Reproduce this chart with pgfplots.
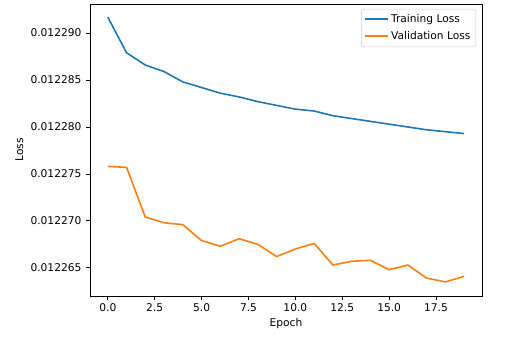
\documentclass[border=0pt]{standalone}
\usepackage{fontspec}
\setmainfont{DejaVu Sans}
\usepackage{pgfplots}
\pgfplotsset{compat=1.18}
\definecolor{mplblue}{HTML}{1F77B4}
\definecolor{mplorange}{HTML}{FF7F0E}

\begin{document}
\begin{tikzpicture}[x=0.75pt,y=0.75pt]
% fixed page: the white margins of the reference image
\useasboundingbox (-90,-43) rectangle (422,296);
\begin{axis}[
  at={(0,0)}, anchor=south west,
  scale only axis, width=294pt, height=219pt,
  font=\fontsize{8}{9.6}\selectfont,
  xmin=-0.95, xmax=19.95,
  ymin=0.0122620, ymax=0.0122931,
  xtick={0,2.5,...,17.5},
  ytick={0.012265,0.012270,0.012275,0.012280,0.012285,0.012290},
  scaled y ticks=false,
  xticklabel style={yshift=1pt, /pgf/number format/.cd, fixed, fixed zerofill, precision=1},
  yticklabel style={/pgf/number format/.cd, fixed, fixed zerofill, precision=6},
  /pgf/number format/assume math mode=true,
  tick align=outside, xtick pos=bottom, ytick pos=left,
  major tick length=2.9pt,
  every tick/.style={black, line width=0.6pt},
  axis line style={line width=0.6pt},
  xlabel={Epoch}, ylabel={Loss},
  xlabel style={at={(axis description cs:0.5,0)}, anchor=center, yshift=-20.5pt},
  ylabel style={at={(axis description cs:0,0.5)}, anchor=center, yshift=53pt},
  legend cell align=left,
  legend style={at={(rel axis cs:0.985,0.983)}, anchor=north east,
    draw=black!20, rounded corners=2pt, fill=white,
    inner sep=2pt, row sep=1pt},
  legend image code/.code={\draw[#1, line width=1.3pt] (0pt,0.3pt) -- (17pt,0.3pt);},
]
\addplot[mplblue, line width=1.2pt] coordinates {
  (0,0.0122917) (1,0.0122879) (2,0.0122866) (3,0.0122859) (4,0.0122848)
  (5,0.0122842) (6,0.0122836) (7,0.0122832) (8,0.0122827) (9,0.0122823)
  (10,0.0122819) (11,0.0122817) (12,0.0122812) (13,0.0122809) (14,0.0122806)
  (15,0.0122803) (16,0.0122800) (17,0.0122797) (18,0.0122795) (19,0.0122793)
};
\addplot[mplorange, line width=1.2pt] coordinates {
  (0,0.0122758) (1,0.0122757) (2,0.0122704) (3,0.0122698) (4,0.0122696)
  (5,0.0122679) (6,0.0122673) (7,0.0122681) (8,0.0122675) (9,0.0122662)
  (10,0.0122670) (11,0.0122676) (12,0.0122653) (13,0.0122657) (14,0.0122658)
  (15,0.0122648) (16,0.0122653) (17,0.0122639) (18,0.0122635) (19,0.0122641)
};
\legend{Training Loss, Validation Loss}
\end{axis}
\end{tikzpicture}
\end{document}
